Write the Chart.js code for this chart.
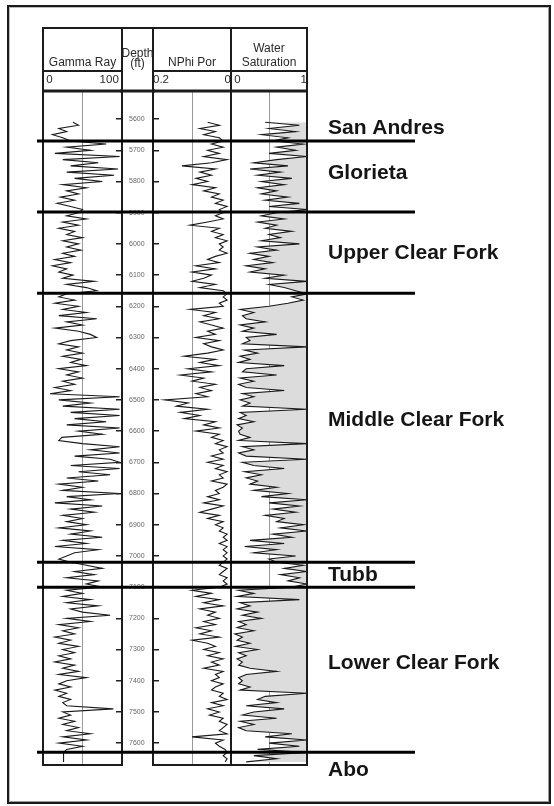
<!DOCTYPE html>
<html>
<head>
<meta charset="utf-8">
<script src="https://cdn.jsdelivr.net/npm/chart.js@4.4.1/dist/chart.umd.min.js"></script>
<style>
  body { margin: 0; width: 554px; height: 806px; background: #fff; position: relative; overflow: hidden; }
  #frame { position: absolute; left: 7px; top: 5px; width: 540px; height: 795px; border: 2px solid #1a1a1a; box-shadow: inset 1px 1px 0 #bbb, inset -1px -1px 0 #999; }
  canvas { position: absolute; }
</style>
</head>
<body>
<div id="frame"></div>
<canvas id="grChart" width="83" height="741" style="left:41px;top:26px"></canvas>
<canvas id="nphiChart" width="82" height="741" style="left:151px;top:26px"></canvas>
<canvas id="swChart" width="80" height="741" style="left:229px;top:26px"></canvas>
<canvas id="depthChart" width="43" height="741" style="left:116px;top:26px"></canvas>
<canvas id="topsChart" width="554" height="806" style="left:0;top:0"></canvas>
<script>
// depth sampling of the log curves (ft)
const depthStart = 5610;
const depthStep = 10;
const depthMin = 5510;
const depthMax = 7670;
const depthTicks = [5600, 5700, 5800, 5900, 6000, 6100, 6200, 6300, 6400, 6500, 6600, 6700, 6800, 6900, 7000, 7100, 7200, 7300, 7400, 7500, 7600];

// Gamma Ray (API), one row per 100 ft starting at 5610
const grValues = [
  38, 45, 20, 30, 12, 25, 35, 80, 30, 60,
  15, 97, 25, 70, 35, 95, 30, 90, 40, 75,
  25, 55, 30, 45, 22, 40, 18, 35, 50, 45,
  30, 55, 25, 45, 20, 40, 30, 50, 25, 45,
  30, 48, 25, 40, 15, 35, 12, 30, 20, 38,
  25, 65, 30, 55, 68, 30, 20, 40, 15, 45,
  25, 55, 20, 68, 30, 50, 15, 45, 60, 68,
  35, 20, 45, 30, 50, 25, 48, 35, 55, 20,
  45, 30, 50, 25, 40, 15, 35, 9, 97, 20,
  60, 25, 97, 35, 97, 40, 80, 30, 97, 45,
  75, 24, 20, 50, 97, 60, 97, 40, 85, 97,
  35, 97, 45, 85, 30, 70, 20, 50, 25, 97,
  30, 60, 15, 75, 35, 65, 25, 50, 30, 55,
  20, 60, 35, 75, 25, 55, 15, 70, 40, 30,
  20, 35, 55, 75, 40, 65, 30, 70, 55, 75,
  30, 50, 25, 60, 30, 70, 35, 50, 85, 30,
  60, 20, 45, 25, 40, 15, 35, 20, 45, 25,
  40, 20, 35, 15, 40, 25, 45, 20, 55, 30,
  20, 35, 15, 30, 20, 35, 25, 30, 89, 25,
  35, 20, 40, 25, 45, 30, 60, 25, 55, 20,
  50, 30, 26, 26, 26, 26
];

// Neutron porosity (fraction)
const nphiValues = [
  0.06, 0.03, 0.08, 0.04, 0.07, 0.03, 0.02, 0.05, 0.02, 0.06,
  0.03, 0.07, 0.01, 0.05, 0.126, 0.04, 0.08, 0.05, 0.09, 0.06,
  0.10, 0.04, 0.07, 0.03, 0.05, 0.02, 0.04, 0.01, 0.03, 0.02,
  0.04, 0.02, 0.06, 0.105, 0.03, 0.05, 0.02, 0.04, 0.01, 0.03,
  0.02, 0.03, 0.01, 0.04, 0.06, 0.03, 0.09, 0.04, 0.10, 0.05,
  0.07, 0.10, 0.04, 0.08, 0.02, 0.01, 0.02, 0.01, 0.03, 0.02,
  0.105, 0.04, 0.07, 0.03, 0.08, 0.05, 0.02, 0.06, 0.04, 0.09,
  0.03, 0.07, 0.05, 0.02, 0.06, 0.12, 0.04, 0.08, 0.03, 0.11,
  0.05, 0.13, 0.07, 0.10, 0.04, 0.08, 0.05, 0.09, 0.06, 0.17,
  0.11, 0.14, 0.06, 0.13, 0.08, 0.12, 0.04, 0.07, 0.03, 0.09,
  0.03, 0.05, 0.02, 0.04, 0.01, 0.03, 0.02, 0.05, 0.02, 0.06,
  0.02, 0.04, 0.01, 0.03, 0.02, 0.05, 0.01, 0.02, 0.04, 0.03,
  0.06, 0.03, 0.07, 0.02, 0.05, 0.08, 0.03, 0.06, 0.02, 0.04,
  0.02, 0.03, 0.01, 0.02, 0.01, 0.03, 0.01, 0.02, 0.01, 0.02,
  0.01, 0.02, 0.03, 0.01, 0.02, 0.03, 0.01, 0.02, 0.01, 0.03,
  0.10, 0.05, 0.09, 0.03, 0.07, 0.02, 0.08, 0.04, 0.06, 0.03,
  0.07, 0.04, 0.09, 0.05, 0.08, 0.03, 0.10, 0.06, 0.04, 0.07,
  0.03, 0.06, 0.02, 0.05, 0.03, 0.07, 0.02, 0.04, 0.03, 0.05,
  0.02, 0.04, 0.05, 0.02, 0.03, 0.01, 0.05, 0.02, 0.06, 0.03,
  0.055, 0.02, 0.03, 0.01, 0.02, 0.03, 0.01, 0.10, 0.02, 0.04,
  0.03, 0.015, 0.01, 0.02, 0.01, 0.015
];

// Water saturation (fraction)
const swValues = [
  0.45, 0.9, 0.5, 0.85, 0.4, 0.75, 0.55, 0.95, 0.6, 0.85,
  0.5, 1.0, 0.6, 0.3, 0.75, 0.25, 0.65, 0.35, 0.8, 0.4,
  0.7, 0.35, 0.6, 0.4, 0.75, 0.45, 0.9, 0.5, 1.0, 0.6,
  0.4, 0.7, 0.35, 0.6, 0.45, 0.8, 0.5, 0.65, 0.4, 0.9,
  0.35, 0.6, 0.25, 0.5, 0.3, 0.55, 0.2, 0.45, 0.25, 0.7,
  0.45, 1.0, 0.5, 0.7, 0.85, 1.0, 0.8, 0.95, 0.75, 0.5,
  0.12, 0.3, 0.15, 0.2, 0.45, 0.12, 0.3, 0.15, 0.6, 0.2,
  0.25, 0.15, 1.0, 0.18, 0.35, 0.12, 0.25, 0.1, 0.7, 0.2,
  0.15, 0.6, 0.12, 0.3, 0.1, 0.2, 0.7, 0.15, 0.3, 0.12,
  0.25, 0.15, 1.0, 0.12, 0.2, 0.1, 0.3, 0.08, 0.15, 0.1,
  0.12, 0.25, 0.1, 1.0, 0.15, 0.3, 0.1, 0.2, 1.0, 0.15,
  0.3, 0.7, 0.18, 0.4, 0.2, 0.35, 0.25, 0.6, 0.3, 0.75,
  0.4, 1.0, 0.5, 0.9, 0.55, 0.85, 0.45, 0.7, 0.6, 0.95,
  0.65, 1.0, 0.55, 0.8, 0.25, 0.7, 0.18, 0.6, 0.3, 0.85,
  0.5, 0.6, 0.95, 0.7, 1.0, 0.65, 0.9, 0.75, 1.0, 0.8,
  0.1, 0.3, 0.08, 0.9, 0.12, 0.25, 0.08, 0.35, 0.15, 0.4,
  0.1, 0.2, 0.08, 0.3, 0.05, 0.15, 0.08, 0.25, 0.06, 0.35,
  0.1, 0.2, 0.08, 0.15, 0.1, 0.25, 0.6, 0.2, 0.1, 0.15,
  0.1, 0.25, 0.12, 1.0, 0.45, 0.35, 0.6, 0.2, 0.7, 0.3,
  0.15, 0.6, 0.12, 0.3, 0.1, 0.2, 0.8, 0.45, 1.0, 0.5,
  0.9, 0.35, 1.0, 0.3, 0.6, 0.2
];

// formation tops (ft) and where the names sit
const topDepths = [5670, 5898, 6158, 7020, 7100, 7629];
const formations = ['San Andres', 'Glorieta', 'Upper Clear Fork', 'Middle Clear Fork', 'Tubb', 'Lower Clear Fork', 'Abo'];
const formationLabelDepths = [5629, 5775, 6030, 6565, 7062, 7344, 7686];

const grTicks = [0, 50, 100];
const grTickLabels = ['0', '', '100'];
const nphiTicks = [0, 0.1, 0.2];
const nphiTickLabels = ['0', '', '0.2'];
const swTicks = [0, 0.5, 1];
const swTickLabels = ['0', '', '1'];

Chart.defaults.font.family = '"Liberation Sans", Arial, sans-serif';
Chart.defaults.color = '#2a2a2a';

const headerH = 63;   // header box height above the curves
const headerSplit = 20; // scale row height
const nameX = 328;

const depths = grValues.map((v, i) => depthStart + i * depthStep);
const pts = vals => vals.map((v, i) => ({ x: v, y: depths[i] }));

const trackFrame = {
  id: 'trackFrame',
  afterDraw(chart, args, opts) {
    const { ctx, chartArea: a } = chart;
    const top = a.top - headerH;
    ctx.save();
    ctx.strokeStyle = '#1c1c1c';
    ctx.lineWidth = 2;
    ctx.beginPath();
    ctx.moveTo(a.left - 1, top);
    ctx.lineTo(a.right + 1, top);
    if (opts.sides) {
      ctx.moveTo(a.left, top); ctx.lineTo(a.left, a.bottom + 1);
      ctx.moveTo(a.right, top); ctx.lineTo(a.right, a.bottom + 1);
      ctx.moveTo(a.left, a.bottom); ctx.lineTo(a.right, a.bottom);
      ctx.moveTo(a.left, a.top - headerSplit); ctx.lineTo(a.right, a.top - headerSplit);
    }
    ctx.stroke();
    ctx.lineWidth = 3;
    ctx.beginPath();
    ctx.moveTo(a.left - 1, a.top);
    ctx.lineTo(a.right + 1, a.top);
    ctx.stroke();
    ctx.restore();
  }
};

const fixBox = s => {
  s.paddingLeft = 0; s.paddingRight = 0; s.paddingTop = 0; s.paddingBottom = 0;
};

function trackChart(id, cfg) {
  return new Chart(document.getElementById(id), {
    type: 'line',
    data: {
      datasets: [{
        data: pts(cfg.values),
        borderColor: '#1a1a1a',
        borderWidth: 1.1,
        pointRadius: 0,
        tension: 0,
        fill: cfg.fill ? { value: cfg.max } : false,
        backgroundColor: '#dcdcdc'
      }]
    },
    options: {
      indexAxis: 'y',
      responsive: false,
      animation: false,
      events: [],
      layout: { padding: { left: 2, right: 2, top: 2, bottom: 2 } },
      plugins: { legend: { display: false }, tooltip: { enabled: false }, trackFrame: { sides: true } },
      scales: {
        x: {
          type: 'linear',
          position: 'top',
          min: cfg.min,
          max: cfg.max,
          reverse: !!cfg.reverse,
          afterBuildTicks: s => { s.ticks = cfg.ticks.map(v => ({ value: v })); },
          afterFit: s => { s.height = headerH; fixBox(s); },
          ticks: {
            align: 'inner',
            padding: 4,
            maxRotation: 0,
            autoSkip: false,
            font: { size: 11.5 },
            callback: (v, i, arr) => {
              const t = cfg.tickLabels[i];
              if (i === 0) return '\u00a0' + t;
              if (i === arr.length - 1) return t + (cfg.rightPad ? '\u00a0' : '');
              return t;
            }
          },
          grid: { drawTicks: false, color: '#9a9a9a', lineWidth: 1 },
          border: { display: false },
          title: {
            display: true,
            text: cfg.title,
            font: { size: 12, lineHeight: 1.15 },
            padding: { top: cfg.titleTop, bottom: 0 }
          }
        },
        y: { type: 'linear', display: false, min: depthMin, max: depthMax, reverse: true }
      }
    },
    plugins: [trackFrame]
  });
}

trackChart('grChart', {
  values: grValues, min: 0, max: 100, ticks: grTicks, tickLabels: grTickLabels,
  title: 'Gamma Ray', titleTop: 28, rightPad: true
});
trackChart('nphiChart', {
  values: nphiValues, min: 0, max: 0.2, reverse: true, ticks: nphiTicks, tickLabels: nphiTickLabels,
  title: 'NPhi Por', titleTop: 28, rightPad: true
});
trackChart('swChart', {
  values: swValues, min: 0, max: 1, ticks: swTicks, tickLabels: swTickLabels, fill: true,
  title: ['Water', 'Saturation'], titleTop: 14
});

// depth column
new Chart(document.getElementById('depthChart'), {
  type: 'line',
  data: { datasets: [] },
  options: {
    responsive: false,
    animation: false,
    events: [],
    layout: { padding: { left: 0, right: 0, top: 2, bottom: 2 } },
    plugins: { legend: { display: false }, tooltip: { enabled: false }, trackFrame: { sides: false } },
    scales: {
      x: {
        type: 'linear', position: 'top', min: 0, max: 1,
        afterFit: s => { s.height = headerH; fixBox(s); },
        ticks: { display: false },
        grid: { display: false },
        border: { display: false },
        title: {
          display: true,
          text: ['Depth', '(ft)'],
          font: { size: 12, lineHeight: 0.8 },
          padding: { top: 21, bottom: 0 }
        }
      },
      y: {
        type: 'linear', position: 'left', min: depthMin, max: depthMax, reverse: true,
        afterBuildTicks: s => { s.ticks = depthTicks.map(v => ({ value: v })); },
        afterFit: s => { s.width = 5; fixBox(s); },
        ticks: { mirror: true, crossAlign: 'center', padding: 8, font: { size: 7 }, color: '#666', autoSkip: false, callback: v => String(v) },
        grid: { drawOnChartArea: false, drawTicks: true, tickLength: 5, color: '#222', lineWidth: 1.5 },
        border: { display: false }
      },
      y2: {
        type: 'linear', position: 'right', min: depthMin, max: depthMax, reverse: true,
        afterBuildTicks: s => { s.ticks = depthTicks.map(v => ({ value: v })); },
        afterFit: s => { s.width = 5; fixBox(s); },
        ticks: { display: false },
        grid: { drawOnChartArea: false, drawTicks: true, tickLength: 5, color: '#222', lineWidth: 1.5 },
        border: { display: false }
      }
    }
  },
  plugins: [trackFrame]
});

// formation tops and names
const formationNames = {
  id: 'formationNames',
  afterDraw(chart) {
    const { ctx, scales: { y } } = chart;
    ctx.save();
    ctx.font = 'bold 21px "Liberation Sans", Arial, sans-serif';
    ctx.fillStyle = '#151515';
    ctx.textAlign = 'left';
    ctx.textBaseline = 'middle';
    formations.forEach((name, i) => {
      ctx.fillText(name, nameX, y.getPixelForValue(formationLabelDepths[i]));
    });
    ctx.restore();
  }
};

new Chart(document.getElementById('topsChart'), {
  type: 'line',
  data: {
    datasets: topDepths.map(d => ({
      data: [{ x: 0, y: d }, { x: 1, y: d }],
      borderColor: '#000',
      borderWidth: 3,
      pointRadius: 0
    }))
  },
  options: {
    responsive: false,
    animation: false,
    events: [],
    layout: { padding: { left: 37, right: 139, top: 91, bottom: 41 } },
    plugins: { legend: { display: false }, tooltip: { enabled: false } },
    scales: {
      x: { type: 'linear', display: false, min: 0, max: 1 },
      y: { type: 'linear', display: false, min: depthMin, max: depthMax, reverse: true }
    }
  },
  plugins: [formationNames]
});
</script>
</body>
</html>
